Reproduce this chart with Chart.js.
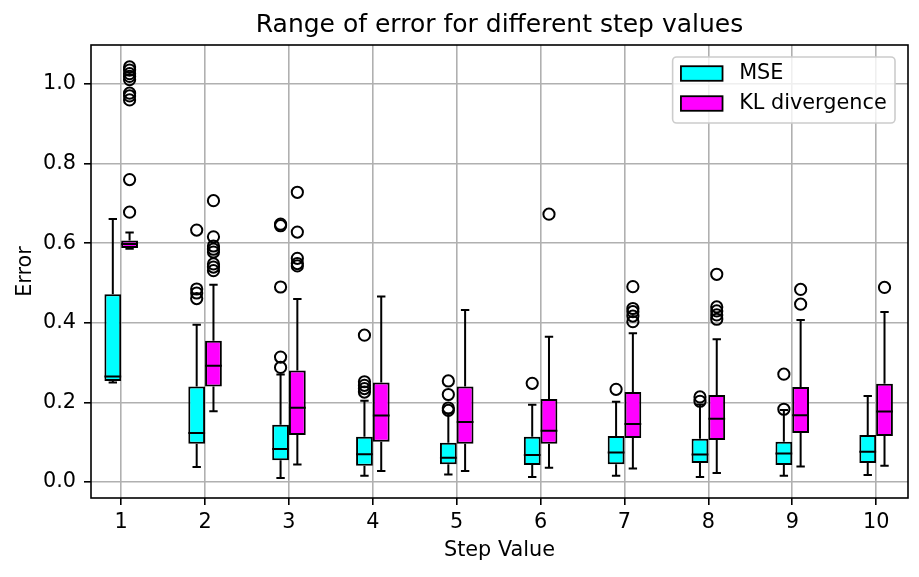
<!DOCTYPE html>
<html lang="en">
<head>
    <meta charset="UTF-8">
    <title>Range of error for different step values</title>
    <style>
        html, body {
            margin: 0;
            padding: 0;
            background: #ffffff;
        }
        #wrap {
            width: 919px;
            height: 577px;
            position: relative;
        }
    </style>
</head>
<body>
    <div id="wrap"><canvas id="errChart"></canvas></div>

    <script src="https://cdn.jsdelivr.net/npm/chart.js@4"></script>
    <script>
        const steps = [1, 2, 3, 4, 5, 6, 7, 8, 9, 10];
        const yTicks = [0, 0.2, 0.4, 0.6, 0.8, 1.0];

        // MSE boxes: whisker ends, quartiles, median, outliers
        const mseLow  = [0.250, 0.038, 0.010, 0.016, 0.019, 0.013, 0.016, 0.013, 0.016, 0.018];
        const mseQ1   = [0.254, 0.096, 0.055, 0.041, 0.045, 0.043, 0.045, 0.048, 0.043, 0.048];
        const mseMed  = [0.265, 0.123, 0.083, 0.070, 0.061, 0.068, 0.074, 0.069, 0.072, 0.076];
        const mseQ3   = [0.472, 0.240, 0.144, 0.114, 0.099, 0.114, 0.116, 0.109, 0.101, 0.118];
        const mseHigh = [0.661, 0.395, 0.270, 0.204, 0.172, 0.194, 0.202, 0.195, 0.181, 0.216];
        const mseFliers = [
            [],
            [0.633, 0.485, 0.475, 0.461],
            [0.648, 0.644, 0.490, 0.314, 0.288],
            [0.369, 0.252, 0.243, 0.235, 0.226],
            [0.254, 0.220, 0.186, 0.180],
            [0.248],
            [0.233],
            [0.214, 0.203],
            [0.271, 0.183],
            []
        ];

        // KL divergence boxes
        const klLow  = [0.586, 0.178, 0.044, 0.028, 0.028, 0.036, 0.034, 0.023, 0.039, 0.041];
        const klQ1   = [0.588, 0.240, 0.118, 0.101, 0.096, 0.096, 0.111, 0.106, 0.123, 0.116];
        const klMed  = [0.598, 0.292, 0.187, 0.167, 0.151, 0.129, 0.146, 0.159, 0.168, 0.177];
        const klQ3   = [0.607, 0.355, 0.280, 0.250, 0.240, 0.209, 0.226, 0.219, 0.239, 0.247];
        const klHigh = [0.627, 0.496, 0.460, 0.466, 0.432, 0.365, 0.374, 0.359, 0.407, 0.427];
        const klFliers = [
            [1.043, 1.035, 1.026, 1.019, 1.011, 0.977, 0.970, 0.960, 0.760, 0.678],
            [0.707, 0.616, 0.593, 0.585, 0.578, 0.548, 0.540, 0.531],
            [0.728, 0.628, 0.562, 0.549, 0.543],
            [],
            [],
            [0.673],
            [0.491, 0.436, 0.428, 0.417, 0.403],
            [0.522, 0.440, 0.430, 0.420, 0.409],
            [0.484, 0.447],
            [0.489]
        ];

        const FONT = '"DejaVu Sans", "Liberation Sans", sans-serif';
        const FS = 20.8;
        Chart.defaults.font.family = FONT;
        Chart.defaults.font.size = FS;
        Chart.defaults.color = '#000000';

        const boxes = [
            { low: mseLow, q1: mseQ1, med: mseMed, q3: mseQ3, high: mseHigh },
            { low: klLow, q1: klQ1, med: klMed, q3: klQ3, high: klHigh }
        ];

        function fliersToPoints(fliers, shift) {
            const pts = [];
            steps.forEach((s, j) => {
                fliers[j].forEach(v => pts.push({ x: s + shift, y: v }));
            });
            return pts;
        }

        // whiskers, medians, frame and legend (matplotlib style)
        const boxExtras = {
            id: 'boxExtras',
            afterLayout(chart) {
                // title centred over the axes, not the canvas
                if (chart.titleBlock) {
                    chart.titleBlock.left = chart.chartArea.left;
                    chart.titleBlock.right = chart.chartArea.right;
                }
            },
            afterDatasetsDraw(chart) {
                const ctx = chart.ctx;
                const y = chart.scales.y;
                const area = chart.chartArea;
                ctx.save();
                ctx.strokeStyle = '#000000';
                ctx.lineWidth = 2;
                boxes.forEach((b, i) => {
                    const meta = chart.getDatasetMeta(i);
                    meta.data.forEach((bar, j) => {
                        const half = bar.width / 2;
                        const cap = bar.width / 4;
                        const pLow = y.getPixelForValue(b.low[j]);
                        const pQ1 = y.getPixelForValue(b.q1[j]);
                        const pMed = y.getPixelForValue(b.med[j]);
                        const pQ3 = y.getPixelForValue(b.q3[j]);
                        const pHigh = y.getPixelForValue(b.high[j]);
                        ctx.beginPath();
                        ctx.moveTo(bar.x, pQ3);
                        ctx.lineTo(bar.x, pHigh);
                        ctx.moveTo(bar.x - cap, pHigh);
                        ctx.lineTo(bar.x + cap, pHigh);
                        ctx.moveTo(bar.x, pQ1);
                        ctx.lineTo(bar.x, pLow);
                        ctx.moveTo(bar.x - cap, pLow);
                        ctx.lineTo(bar.x + cap, pLow);
                        ctx.moveTo(bar.x - half, pMed);
                        ctx.lineTo(bar.x + half, pMed);
                        ctx.stroke();
                    });
                });
                // axes frame
                ctx.lineWidth = 1.6;
                ctx.strokeRect(area.left, area.top, area.right - area.left, area.bottom - area.top);
                ctx.restore();
            },
            afterDraw(chart) {
                const ctx = chart.ctx;
                const area = chart.chartArea;
                const items = chart.data.datasets.filter(d => d.type !== 'scatter');
                ctx.save();
                ctx.font = FS + 'px ' + FONT;
                const textW = Math.max(...items.map(d => ctx.measureText(d.label).width));
                const pad = 0.4 * FS, handleW = 2 * FS, handleH = 0.7 * FS, gap = 0.8 * FS, rowH = 30;
                const w = pad + handleW + gap + textW + pad;
                const h = 66;
                const right = area.right - 13;
                const top = area.top + 12;
                const left = right - w;

                ctx.beginPath();
                ctx.roundRect(left, top, w, h, 4);
                ctx.fillStyle = 'rgba(255,255,255,0.8)';
                ctx.fill();
                ctx.strokeStyle = '#cccccc';
                ctx.lineWidth = 1.6;
                ctx.stroke();

                items.forEach((d, k) => {
                    const cy = top + 16.5 + k * rowH;
                    ctx.fillStyle = d.backgroundColor;
                    ctx.fillRect(left + pad, cy - handleH / 2, handleW, handleH);
                    ctx.strokeStyle = '#000000';
                    ctx.lineWidth = 1.8;
                    ctx.strokeRect(left + pad, cy - handleH / 2, handleW, handleH);
                    ctx.fillStyle = '#000000';
                    ctx.textBaseline = 'middle';
                    ctx.textAlign = 'left';
                    ctx.fillText(d.label, left + pad + handleW + gap, cy);
                });
                ctx.restore();
            }
        };

        const barStyle = {
            borderColor: '#000000',
            borderWidth: 2,
            borderSkipped: false,
            barPercentage: 1.0,
            categoryPercentage: 0.4
        };
        const flierStyle = {
            type: 'scatter',
            pointStyle: 'circle',
            pointRadius: 5.6,
            pointBorderWidth: 2,
            pointBorderColor: '#000000',
            pointBackgroundColor: 'rgba(0,0,0,0)',
            showLine: false
        };

        const ctx = document.getElementById('errChart').getContext('2d');
        new Chart(ctx, {
            type: 'bar',
            data: {
                datasets: [
                    Object.assign({
                        label: 'MSE',
                        backgroundColor: '#00ffff',
                        data: steps.map((s, j) => ({ x: s, y: [mseQ1[j], mseQ3[j]] }))
                    }, barStyle),
                    Object.assign({
                        label: 'KL divergence',
                        backgroundColor: '#ff00ff',
                        data: steps.map((s, j) => ({ x: s, y: [klQ1[j], klQ3[j]] }))
                    }, barStyle),
                    Object.assign({ label: 'MSE outliers', data: fliersToPoints(mseFliers, -0.1) }, flierStyle),
                    Object.assign({ label: 'KL outliers', data: fliersToPoints(klFliers, 0.1) }, flierStyle)
                ]
            },
            options: {
                responsive: true,
                maintainAspectRatio: false,
                animation: false,
                events: [],
                layout: { padding: { left: 0, right: 11, top: 0, bottom: 0 } },
                plugins: {
                    legend: { display: false },
                    tooltip: { enabled: false },
                    title: {
                        display: true,
                        text: 'Range of error for different step values',
                        font: { size: 25, weight: 'normal' },
                        color: '#000000',
                        padding: { top: 10.6, bottom: 4.4 }
                    }
                },
                scales: {
                    x: {
                        type: 'linear',
                        min: 0.64,
                        max: 10.38,
                        offset: false,
                        afterBuildTicks: s => { s.ticks = steps.map(v => ({ value: v })); },
                        afterFit: s => { s.height = 79; },
                        ticks: {
                            padding: 5.3,
                            maxRotation: 0,
                            autoSkip: false,
                            callback: v => String(v)
                        },
                        grid: {
                            offset: false,
                            color: '#b0b0b0',
                            lineWidth: 1.6,
                            tickColor: '#000000',
                            tickLength: 7,
                            tickWidth: 1.6
                        },
                        border: { display: false },
                        title: {
                            display: true,
                            text: 'Step Value',
                            padding: { top: 0, bottom: 14.4 }
                        }
                    },
                    y: {
                        type: 'linear',
                        min: -0.04,
                        max: 1.098,
                        afterBuildTicks: s => { s.ticks = yTicks.map(v => ({ value: v })); },
                        afterFit: s => { s.width = 91; },
                        ticks: {
                            padding: 8,
                            callback: v => Number(v).toFixed(1)
                        },
                        grid: {
                            color: '#b0b0b0',
                            lineWidth: 1.6,
                            tickColor: '#000000',
                            tickLength: 7,
                            tickWidth: 1.6
                        },
                        border: { display: false },
                        title: {
                            display: true,
                            text: 'Error',
                            padding: { top: 13.5, bottom: 0 }
                        }
                    }
                }
            },
            plugins: [boxExtras]
        });
    </script>
</body>
</html>
